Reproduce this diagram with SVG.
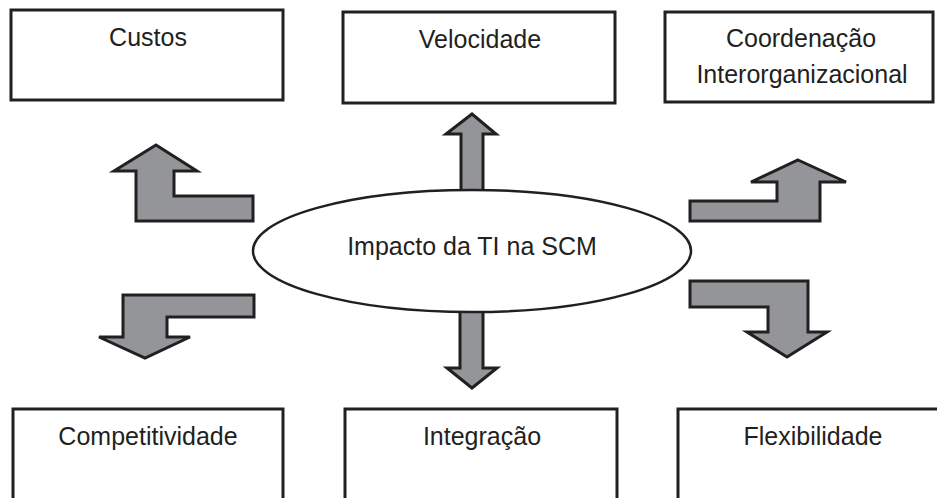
<svg xmlns="http://www.w3.org/2000/svg" width="937" height="498" viewBox="0 0 937 498">
<style>
.box{fill:#fff;stroke:#231f20;stroke-width:3}
.arr{fill:#939598;stroke:#231f20;stroke-width:3;stroke-linejoin:miter}
.t{font-family:"Liberation Sans",Arial,sans-serif;font-size:25px;fill:#231f20;text-anchor:middle}
</style>
<rect width="937" height="498" fill="#fff"/>
<g id="connectors">
<path class="arr" d="M461,205 L461,134 L446,134 L472,114 L496,134 L483,134 L483,205 Z"/>
<path class="arr" d="M460,300 L460,368 L447,368 L472,388 L497,368 L483,368 L483,300 Z"/>
<path class="arr" d="M156,145 L197,171 L174,171 L174,196 L253,196 L253,221 L136,221 L136,171 L114,171 Z"/>
<path class="arr" d="M798,160 L846,182 L820,182 L820,221 L690,221 L690,201 L777,201 L777,182 L751,182 Z"/>
<path class="arr" d="M123,295 L254,295 L254,317 L167,317 L167,337 L190,337 L145,358 L99,337 L123,337 Z"/>
<path class="arr" d="M690,281 L808,281 L808,332 L827,332 L787,357 L747,332 L768,332 L768,307 L690,307 Z"/>
</g>
<g id="center">
<ellipse cx="472" cy="251" rx="219" ry="61" fill="#fff" stroke="#231f20" stroke-width="2.5"/>
<text class="t" x="472" y="255">Impacto da TI na SCM</text>
</g>
<g id="custos">
<rect class="box" x="11" y="10" width="272" height="90"/>
<text class="t" x="148" y="46">Custos</text>
</g>
<g id="velocidade">
<rect class="box" x="343" y="12" width="272" height="91"/>
<text class="t" x="480" y="48">Velocidade</text>
</g>
<g id="coordenacao">
<rect class="box" x="665" y="12" width="268" height="90"/>
<text class="t" x="801" y="47">Coordenação</text>
<text class="t" x="802" y="83">Interorganizacional</text>
</g>
<g id="competitividade">
<rect class="box" x="13" y="409" width="270" height="110"/>
<text class="t" x="148" y="445">Competitividade</text>
</g>
<g id="integracao">
<rect class="box" x="345" y="409" width="272" height="110"/>
<text class="t" x="482" y="445">Integração</text>
</g>
<g id="flexibilidade">
<rect class="box" x="678" y="409" width="272" height="110"/>
<text class="t" x="813" y="445">Flexibilidade</text>
</g>
</svg>
